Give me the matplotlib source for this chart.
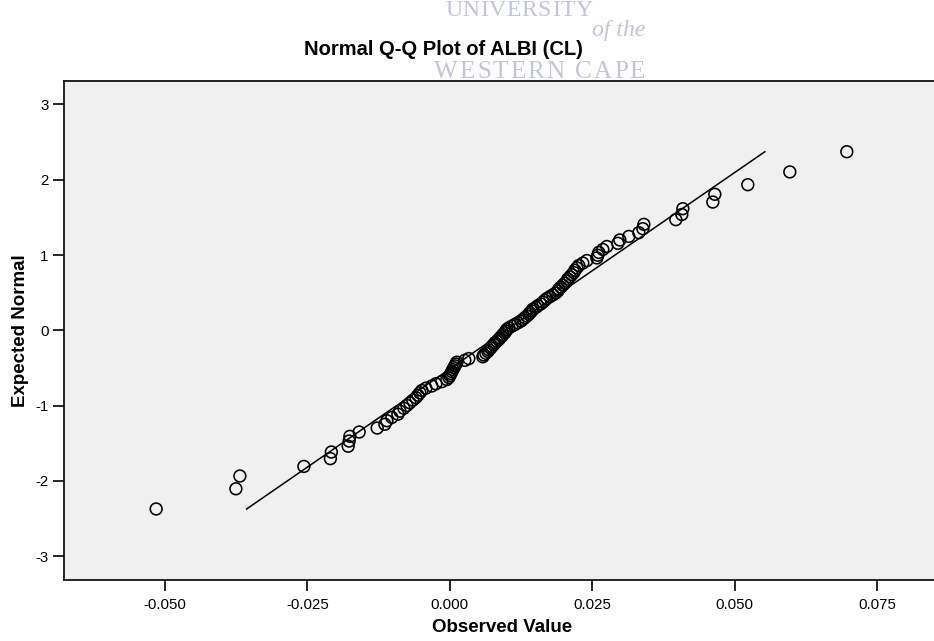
import matplotlib
matplotlib.use("Agg")
import matplotlib.pyplot as plt
import numpy as np
from statistics import NormalDist

# Observed ALBI (CL) values, sorted ascending
observed = [
    -0.05153, -0.03754, -0.03684, -0.02561, -0.02096, -0.02079, -0.01784, -0.01754,
    -0.01767, -0.01591, -0.01275, -0.01140, -0.01105, -0.01018, -0.00912, -0.00877,
    -0.00807, -0.00754, -0.00702, -0.00649, -0.00596, -0.00561, -0.00526, -0.00491,
    -0.00421, -0.00316, -0.00246, -0.00140, -0.00053, -0.00018, 0.00000, 0.00018,
    0.00035, 0.00053, 0.00070, 0.00088, 0.00105, 0.00123, 0.00263, 0.00333,
    0.00579, 0.00596, 0.00632, 0.00667, 0.00684, 0.00719, 0.00737, 0.00772,
    0.00789, 0.00825, 0.00860, 0.00877, 0.00912, 0.00930, 0.00965, 0.00982,
    0.01000, 0.01035, 0.01088, 0.01140, 0.01193, 0.01246, 0.01281, 0.01316,
    0.01351, 0.01386, 0.01404, 0.01439, 0.01456, 0.01509, 0.01544, 0.01596,
    0.01632, 0.01667, 0.01702, 0.01754, 0.01807, 0.01860, 0.01895, 0.01912,
    0.01947, 0.01982, 0.02018, 0.02053, 0.02070, 0.02105, 0.02140, 0.02175,
    0.02193, 0.02228, 0.02263, 0.02333, 0.02404, 0.02579, 0.02596, 0.02614,
    0.02684, 0.02754, 0.02947, 0.02982, 0.03140, 0.03316, 0.03386, 0.03404,
    0.03965, 0.04070, 0.04088, 0.04614, 0.04649, 0.05228, 0.05965, 0.06965,
]

x_ticks = [-0.050, -0.025, 0.000, 0.025, 0.050, 0.075]
x_tick_labels = ["-0.050", "-0.025", "0.000", "0.025", "0.050", "0.075"]
y_ticks = [-3, -2, -1, 0, 1, 2, 3]
y_tick_labels = ["-3", "-2", "-1", "0", "1", "2", "3"]

title = "Normal Q-Q Plot of ALBI (CL)"
x_label = "Observed Value"
y_label = "Expected Normal"

# Expected normal scores from ranks (plotting position i / (n + 1))
obs = np.sort(np.asarray(observed))
n = len(obs)
std_normal = NormalDist()
expected = np.array([std_normal.inv_cdf(i / (n + 1)) for i in range(1, n + 1)])

# Reference line from the sample mean and standard deviation
mu = obs.mean()
sd = obs.std(ddof=1)
line_y = np.array([expected.min(), expected.max()])
line_x = mu + sd * line_y

W, H = 934, 641
fig = plt.figure(figsize=(W / 100, H / 100), dpi=100)
fig.patch.set_facecolor("white")

ax = fig.add_axes([64 / W, 61 / H, (940 - 64) / W, 499 / H])
ax.set_facecolor("#f0f0f0")

ax.plot(line_x, line_y, color="black", lw=1.1, zorder=2)
ax.scatter(obs, expected, s=72, facecolors="none", edgecolors="black",
           linewidths=1.15, zorder=3)

ax.set_xlim(-0.0677, 0.0860)
ax.set_ylim(-3.315, 3.311)

ax.set_xticks(x_ticks)
ax.set_xticklabels(x_tick_labels)
ax.set_yticks(y_ticks)
ax.set_yticklabels(y_tick_labels)

font = "Liberation Sans"
for lab in ax.get_xticklabels() + ax.get_yticklabels():
    lab.set_fontfamily(font)
    lab.set_fontsize(10.8)
ax.tick_params(axis="both", direction="out", length=8, width=1.2, color="black",
               labelcolor="black")
ax.tick_params(axis="x", pad=5)
ax.tick_params(axis="y", pad=3)

for side in ("top", "left", "bottom", "right"):
    ax.spines[side].set_color("black")
    ax.spines[side].set_linewidth(1.2)

ax.set_xlabel(x_label, fontfamily=font, fontsize=13.5, fontweight="bold", labelpad=5)
ax.set_ylabel(y_label, fontfamily=font, fontsize=13.5, fontweight="bold", labelpad=5)


def spaced_text(x_px, y_px, s, tracking, space_px, **kw):
    """Draw a letter-spaced string glyph by glyph, left to right."""
    renderer = fig.canvas.get_renderer()
    x = x_px
    for ch in s:
        if ch == " ":
            x += space_px
            continue
        t = fig.text(x / W, 1 - y_px / H, ch, ha="left", va="baseline", **kw)
        x += t.get_window_extent(renderer).width + tracking


# Letterhead watermark behind the title
wm_color = "#c2c6d6"
wm = dict(fontfamily="Liberation Serif", color=wm_color, zorder=0)
spaced_text(445, 16, "UNIVERSITY", 0.6, 0, fontsize=17, **wm)
fig.text(592 / W, 1 - 36 / H, "of the", fontstyle="italic", fontsize=17,
         ha="left", va="baseline", **wm)
spaced_text(434, 78, "WESTERN CAPE", 2.0, 9, fontsize=18, **wm)

fig.text(443 / W, 1 - 55 / H, title, fontfamily=font, fontsize=14.5,
         fontweight="bold", color="black", ha="center", va="baseline", zorder=5)

fig.savefig("out.png", dpi=100, facecolor="white")
